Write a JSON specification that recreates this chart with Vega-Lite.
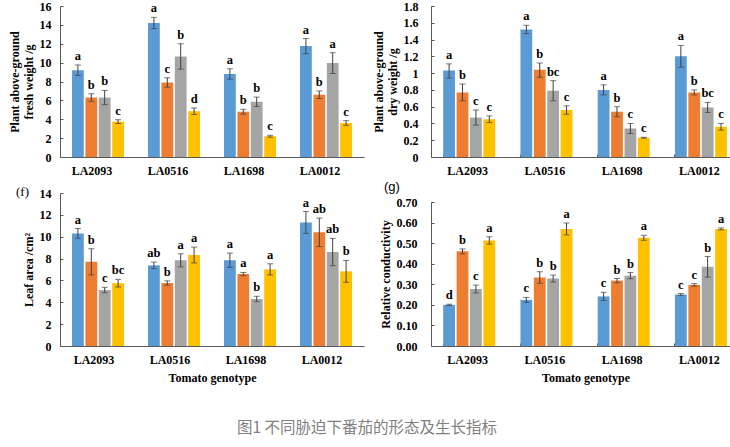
{
  "$schema": "https://vega.github.io/schema/vega-lite/v6.json",
  "autosize": {"type": "pad"},
  "padding": {"left": 8, "top": 0, "right": 0, "bottom": 0},
  "background": "white",
  "spacing": 8,
  "title": {
    "text": "图1 不同胁迫下番茄的形态及生长指标",
    "orient": "bottom",
    "anchor": "middle",
    "frame": "bounds",
    "font": "Noto Sans CJK SC",
    "fontSize": 15.5,
    "fontWeight": "normal",
    "color": "#808080",
    "offset": 38,
    "dx": -7
  },
  "config": {
    "view": {"stroke": null},
    "font": "Liberation Serif",
    "axis": {
      "labelFont": "Liberation Serif",
      "labelFontWeight": "bold",
      "labelFontSize": 12,
      "labelColor": "#000000",
      "labelOverlap": false,
      "titleFont": "Liberation Serif",
      "titleFontWeight": "bold",
      "titleFontSize": 12,
      "titleColor": "#000000",
      "domainColor": "#595959",
      "tickColor": "#595959",
      "grid": false
    },
    "axisX": {"labelAngle": 0, "tickSize": -3, "labelPadding": 11, "titlePadding": 7, "labelOffset": -3},
    "axisY": {"tickSize": -3, "labelPadding": 12, "titlePadding": 4, "titleLineHeight": 14, "tickCount": 20},
    "title": {"anchor": "start", "frame": "group"}
  },
  "datasets": {
    "fresh": [
      {"genotype": "LA2093", "treatment": "T1", "value": 9.2, "lo": 8.65, "hi": 9.75, "sig": "a"},
      {"genotype": "LA2093", "treatment": "T2", "value": 6.3, "lo": 5.9, "hi": 6.7, "sig": "b"},
      {"genotype": "LA2093", "treatment": "T3", "value": 6.3, "lo": 5.55, "hi": 7.05, "sig": "b"},
      {"genotype": "LA2093", "treatment": "T4", "value": 3.75, "lo": 3.55, "hi": 3.95, "sig": "c"},
      {"genotype": "LA0516", "treatment": "T1", "value": 14.2, "lo": 13.6, "hi": 14.8, "sig": "a"},
      {"genotype": "LA0516", "treatment": "T2", "value": 7.9, "lo": 7.4, "hi": 8.4, "sig": "c"},
      {"genotype": "LA0516", "treatment": "T3", "value": 10.65, "lo": 9.3, "hi": 12.0, "sig": "b"},
      {"genotype": "LA0516", "treatment": "T4", "value": 4.85, "lo": 4.5, "hi": 5.2, "sig": "d"},
      {"genotype": "LA1698", "treatment": "T1", "value": 8.8, "lo": 8.25, "hi": 9.35, "sig": "a"},
      {"genotype": "LA1698", "treatment": "T2", "value": 4.8, "lo": 4.55, "hi": 5.05, "sig": "b"},
      {"genotype": "LA1698", "treatment": "T3", "value": 5.85, "lo": 5.35, "hi": 6.35, "sig": "b"},
      {"genotype": "LA1698", "treatment": "T4", "value": 2.2, "lo": 2.1, "hi": 2.3, "sig": "c"},
      {"genotype": "LA0012", "treatment": "T1", "value": 11.75, "lo": 10.95, "hi": 12.55, "sig": "a"},
      {"genotype": "LA0012", "treatment": "T2", "value": 6.6, "lo": 6.2, "hi": 7.0, "sig": "b"},
      {"genotype": "LA0012", "treatment": "T3", "value": 9.95, "lo": 8.85, "hi": 11.05, "sig": "a"},
      {"genotype": "LA0012", "treatment": "T4", "value": 3.6, "lo": 3.35, "hi": 3.85, "sig": "c"}
    ],
    "dry": [
      {"genotype": "LA2093", "treatment": "T1", "value": 1.03, "lo": 0.94, "hi": 1.11, "sig": "a"},
      {"genotype": "LA2093", "treatment": "T2", "value": 0.77, "lo": 0.67, "hi": 0.87, "sig": "b"},
      {"genotype": "LA2093", "treatment": "T3", "value": 0.47, "lo": 0.38, "hi": 0.56, "sig": "c"},
      {"genotype": "LA2093", "treatment": "T4", "value": 0.45, "lo": 0.41, "hi": 0.49, "sig": "c"},
      {"genotype": "LA0516", "treatment": "T1", "value": 1.52, "lo": 1.47, "hi": 1.57, "sig": "a"},
      {"genotype": "LA0516", "treatment": "T2", "value": 1.04, "lo": 0.95, "hi": 1.12, "sig": "b"},
      {"genotype": "LA0516", "treatment": "T3", "value": 0.79, "lo": 0.67, "hi": 0.91, "sig": "bc"},
      {"genotype": "LA0516", "treatment": "T4", "value": 0.56, "lo": 0.51, "hi": 0.61, "sig": "c"},
      {"genotype": "LA1698", "treatment": "T1", "value": 0.8, "lo": 0.74, "hi": 0.86, "sig": "a"},
      {"genotype": "LA1698", "treatment": "T2", "value": 0.54, "lo": 0.48, "hi": 0.6, "sig": "b"},
      {"genotype": "LA1698", "treatment": "T3", "value": 0.34, "lo": 0.28, "hi": 0.4, "sig": "c"},
      {"genotype": "LA1698", "treatment": "T4", "value": 0.23, "lo": 0.225, "hi": 0.235, "sig": "c"},
      {"genotype": "LA0012", "treatment": "T1", "value": 1.2, "lo": 1.07, "hi": 1.33, "sig": "a"},
      {"genotype": "LA0012", "treatment": "T2", "value": 0.77, "lo": 0.74, "hi": 0.8, "sig": "b"},
      {"genotype": "LA0012", "treatment": "T3", "value": 0.59, "lo": 0.53, "hi": 0.65, "sig": "bc"},
      {"genotype": "LA0012", "treatment": "T4", "value": 0.36, "lo": 0.32, "hi": 0.4, "sig": "c"}
    ],
    "leaf": [
      {"genotype": "LA2093", "treatment": "T1", "value": 10.3, "lo": 9.85, "hi": 10.75, "sig": "a"},
      {"genotype": "LA2093", "treatment": "T2", "value": 7.7, "lo": 6.5, "hi": 8.9, "sig": "b"},
      {"genotype": "LA2093", "treatment": "T3", "value": 5.12, "lo": 4.87, "hi": 5.37, "sig": "c"},
      {"genotype": "LA2093", "treatment": "T4", "value": 5.75, "lo": 5.4, "hi": 6.1, "sig": "bc"},
      {"genotype": "LA0516", "treatment": "T1", "value": 7.38, "lo": 7.08, "hi": 7.68, "sig": "ab"},
      {"genotype": "LA0516", "treatment": "T2", "value": 5.76, "lo": 5.56, "hi": 5.96, "sig": "b"},
      {"genotype": "LA0516", "treatment": "T3", "value": 7.84, "lo": 7.24, "hi": 8.44, "sig": "a"},
      {"genotype": "LA0516", "treatment": "T4", "value": 8.33, "lo": 7.6, "hi": 9.05, "sig": "a"},
      {"genotype": "LA1698", "treatment": "T1", "value": 7.85, "lo": 7.2, "hi": 8.5, "sig": "a"},
      {"genotype": "LA1698", "treatment": "T2", "value": 6.58, "lo": 6.43, "hi": 6.73, "sig": "a"},
      {"genotype": "LA1698", "treatment": "T3", "value": 4.3, "lo": 4.05, "hi": 4.55, "sig": "b"},
      {"genotype": "LA1698", "treatment": "T4", "value": 7.01, "lo": 6.5, "hi": 7.52, "sig": "a"},
      {"genotype": "LA0012", "treatment": "T1", "value": 11.3, "lo": 10.3, "hi": 12.3, "sig": "a"},
      {"genotype": "LA0012", "treatment": "T2", "value": 10.4, "lo": 9.1, "hi": 11.7, "sig": "ab"},
      {"genotype": "LA0012", "treatment": "T3", "value": 8.6, "lo": 7.35, "hi": 9.85, "sig": "ab"},
      {"genotype": "LA0012", "treatment": "T4", "value": 6.83, "lo": 5.83, "hi": 7.83, "sig": "b"}
    ],
    "cond": [
      {"genotype": "LA2093", "treatment": "T1", "value": 0.2, "lo": 0.197, "hi": 0.203, "sig": "d"},
      {"genotype": "LA2093", "treatment": "T2", "value": 0.46, "lo": 0.448, "hi": 0.472, "sig": "b"},
      {"genotype": "LA2093", "treatment": "T3", "value": 0.277, "lo": 0.258, "hi": 0.296, "sig": "c"},
      {"genotype": "LA2093", "treatment": "T4", "value": 0.513, "lo": 0.495, "hi": 0.531, "sig": "a"},
      {"genotype": "LA0516", "treatment": "T1", "value": 0.224, "lo": 0.212, "hi": 0.236, "sig": "c"},
      {"genotype": "LA0516", "treatment": "T2", "value": 0.333, "lo": 0.305, "hi": 0.361, "sig": "b"},
      {"genotype": "LA0516", "treatment": "T3", "value": 0.328, "lo": 0.311, "hi": 0.345, "sig": "b"},
      {"genotype": "LA0516", "treatment": "T4", "value": 0.569, "lo": 0.54, "hi": 0.598, "sig": "a"},
      {"genotype": "LA1698", "treatment": "T1", "value": 0.241, "lo": 0.221, "hi": 0.261, "sig": "c"},
      {"genotype": "LA1698", "treatment": "T2", "value": 0.318, "lo": 0.308, "hi": 0.328, "sig": "b"},
      {"genotype": "LA1698", "treatment": "T3", "value": 0.342, "lo": 0.327, "hi": 0.357, "sig": "b"},
      {"genotype": "LA1698", "treatment": "T4", "value": 0.526, "lo": 0.514, "hi": 0.538, "sig": "a"},
      {"genotype": "LA0012", "treatment": "T1", "value": 0.25, "lo": 0.245, "hi": 0.255, "sig": "c"},
      {"genotype": "LA0012", "treatment": "T2", "value": 0.297, "lo": 0.291, "hi": 0.303, "sig": "c"},
      {"genotype": "LA0012", "treatment": "T3", "value": 0.385, "lo": 0.335, "hi": 0.435, "sig": "b"},
      {"genotype": "LA0012", "treatment": "T4", "value": 0.569, "lo": 0.564, "hi": 0.574, "sig": "a"}
    ]
  },
  "hconcat": [
    {
      "bounds": "flush",
      "spacing": 36,
      "vconcat": [
        {
          "width": 304,
          "height": 151,
          "data": {"name": "fresh"},
          "encoding": {
            "x": {"field": "genotype", "type": "nominal", "sort": ["LA2093", "LA0516", "LA1698", "LA0012"],
                  "scale": {"paddingInner": 0.316, "paddingOuter": 0.158},
                  "axis": {"title": null, "bandPosition": 0, "labelOffset": -6}},
            "xOffset": {"field": "treatment", "type": "nominal", "scale": {"paddingInner": 0.12, "paddingOuter": 0}}
          },
          "layer": [
            {
              "mark": "bar",
              "encoding": {
                "y": {"field": "value", "type": "quantitative", "scale": {"domain": [0, 16]},
                      "axis": {"values": [0, 2, 4, 6, 8, 10, 12, 14, 16], "tickCount": 9, "title": ["Plant above-ground", "fresh weight /g"]}},
                "color": {"field": "treatment", "type": "nominal", "legend": null,
                          "scale": {"domain": ["T1", "T2", "T3", "T4"], "range": ["#5B9BD5", "#ED7D31", "#A5A5A5", "#FFC000"]}}
              }
            },
            {"mark": {"type": "rule", "color": "#404040", "strokeWidth": 1},
             "encoding": {"y": {"field": "lo", "type": "quantitative"}, "y2": {"field": "hi"}}},
            {"mark": {"type": "tick", "color": "#404040", "size": 6, "thickness": 1},
             "encoding": {"y": {"field": "hi", "type": "quantitative"}}},
            {"mark": {"type": "tick", "color": "#404040", "size": 6, "thickness": 1},
             "encoding": {"y": {"field": "lo", "type": "quantitative"}}},
            {"mark": {"type": "text", "baseline": "bottom", "dy": -2, "font": "Liberation Serif", "fontWeight": "bold", "fontSize": 12.5},
             "encoding": {"y": {"field": "hi", "type": "quantitative"}, "text": {"field": "sig"}}}
          ]
        },
        {
          "width": 304,
          "height": 153,
          "title": {"text": "(f)", "font": "Liberation Serif", "fontSize": 13, "fontWeight": "normal", "dx": -44, "offset": -12},
          "data": {"name": "leaf"},
          "encoding": {
            "x": {"field": "genotype", "type": "nominal", "sort": ["LA2093", "LA0516", "LA1698", "LA0012"],
                  "scale": {"paddingInner": 0.316, "paddingOuter": 0.158},
                  "axis": {"title": "Tomato genotype", "bandPosition": 0, "labelOffset": -4}},
            "xOffset": {"field": "treatment", "type": "nominal", "scale": {"paddingInner": 0.12, "paddingOuter": 0}}
          },
          "layer": [
            {
              "mark": "bar",
              "encoding": {
                "y": {"field": "value", "type": "quantitative", "scale": {"domain": [0, 14]},
                      "axis": {"values": [0, 2, 4, 6, 8, 10, 12, 14], "tickCount": 8, "title": "Leaf area /cm²"}},
                "color": {"field": "treatment", "type": "nominal", "legend": null,
                          "scale": {"domain": ["T1", "T2", "T3", "T4"], "range": ["#5B9BD5", "#ED7D31", "#A5A5A5", "#FFC000"]}}
              }
            },
            {"mark": {"type": "rule", "color": "#404040", "strokeWidth": 1},
             "encoding": {"y": {"field": "lo", "type": "quantitative"}, "y2": {"field": "hi"}}},
            {"mark": {"type": "tick", "color": "#404040", "size": 6, "thickness": 1},
             "encoding": {"y": {"field": "hi", "type": "quantitative"}}},
            {"mark": {"type": "tick", "color": "#404040", "size": 6, "thickness": 1},
             "encoding": {"y": {"field": "lo", "type": "quantitative"}}},
            {"mark": {"type": "text", "baseline": "bottom", "dy": -2, "font": "Liberation Serif", "fontWeight": "bold", "fontSize": 12.5},
             "encoding": {"y": {"field": "hi", "type": "quantitative"}, "text": {"field": "sig"}}}
          ]
        }
      ]
    },
    {
      "bounds": "flush",
      "spacing": 45,
      "vconcat": [
        {
          "width": 309,
          "height": 151,
          "data": {"name": "dry"},
          "encoding": {
            "x": {"field": "genotype", "type": "nominal", "sort": ["LA2093", "LA0516", "LA1698", "LA0012"],
                  "scale": {"paddingInner": 0.316, "paddingOuter": 0.158},
                  "axis": {"title": null, "bandPosition": 0, "labelOffset": -2}},
            "xOffset": {"field": "treatment", "type": "nominal", "scale": {"paddingInner": 0.12, "paddingOuter": 0}}
          },
          "layer": [
            {
              "mark": "bar",
              "encoding": {
                "y": {"field": "value", "type": "quantitative", "scale": {"domain": [0, 1.8]},
                      "axis": {"values": [0, 0.2, 0.4, 0.6, 0.8, 1, 1.2, 1.4, 1.6, 1.8], "tickCount": 10, "format": "~g", "labelPadding": 16, "title": ["Plant above-ground", "dry weight /g"]}},
                "color": {"field": "treatment", "type": "nominal", "legend": null,
                          "scale": {"domain": ["T1", "T2", "T3", "T4"], "range": ["#5B9BD5", "#ED7D31", "#A5A5A5", "#FFC000"]}}
              }
            },
            {"mark": {"type": "rule", "color": "#404040", "strokeWidth": 1},
             "encoding": {"y": {"field": "lo", "type": "quantitative"}, "y2": {"field": "hi"}}},
            {"mark": {"type": "tick", "color": "#404040", "size": 6, "thickness": 1},
             "encoding": {"y": {"field": "hi", "type": "quantitative"}}},
            {"mark": {"type": "tick", "color": "#404040", "size": 6, "thickness": 1},
             "encoding": {"y": {"field": "lo", "type": "quantitative"}}},
            {"mark": {"type": "text", "baseline": "bottom", "dy": -2, "font": "Liberation Serif", "fontWeight": "bold", "fontSize": 12.5},
             "encoding": {"y": {"field": "hi", "type": "quantitative"}, "text": {"field": "sig"}}}
          ]
        },
        {
          "width": 309,
          "height": 144,
          "title": {"text": "(g)", "font": "Liberation Sans", "fontSize": 13, "fontWeight": "normal", "dx": -47, "offset": 2},
          "data": {"name": "cond"},
          "encoding": {
            "x": {"field": "genotype", "type": "nominal", "sort": ["LA2093", "LA0516", "LA1698", "LA0012"],
                  "scale": {"paddingInner": 0.316, "paddingOuter": 0.158},
                  "axis": {"title": "Tomato genotype", "bandPosition": 0, "labelOffset": -2}},
            "xOffset": {"field": "treatment", "type": "nominal", "scale": {"paddingInner": 0.12, "paddingOuter": 0}}
          },
          "layer": [
            {
              "mark": "bar",
              "encoding": {
                "y": {"field": "value", "type": "quantitative", "scale": {"domain": [0, 0.7]},
                      "axis": {"values": [0, 0.1, 0.2, 0.3, 0.4, 0.5, 0.6, 0.7], "tickCount": 8, "format": ".2f", "labelPadding": 17, "title": "Relative conductivity"}},
                "color": {"field": "treatment", "type": "nominal", "legend": null,
                          "scale": {"domain": ["T1", "T2", "T3", "T4"], "range": ["#5B9BD5", "#ED7D31", "#A5A5A5", "#FFC000"]}}
              }
            },
            {"mark": {"type": "rule", "color": "#404040", "strokeWidth": 1},
             "encoding": {"y": {"field": "lo", "type": "quantitative"}, "y2": {"field": "hi"}}},
            {"mark": {"type": "tick", "color": "#404040", "size": 6, "thickness": 1},
             "encoding": {"y": {"field": "hi", "type": "quantitative"}}},
            {"mark": {"type": "tick", "color": "#404040", "size": 6, "thickness": 1},
             "encoding": {"y": {"field": "lo", "type": "quantitative"}}},
            {"mark": {"type": "text", "baseline": "bottom", "dy": -2, "font": "Liberation Serif", "fontWeight": "bold", "fontSize": 12.5},
             "encoding": {"y": {"field": "hi", "type": "quantitative"}, "text": {"field": "sig"}}}
          ]
        }
      ]
    }
  ]
}
